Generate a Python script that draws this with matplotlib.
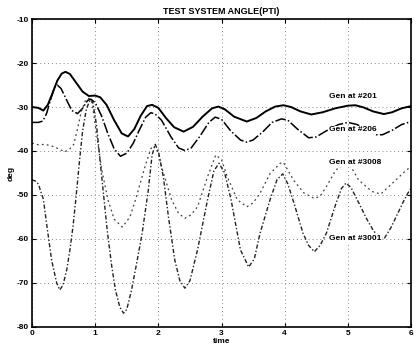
import matplotlib
matplotlib.use("Agg")
import matplotlib.pyplot as plt

plt.rcParams["font.family"] = ["Liberation Sans", "DejaVu Sans"]
plt.rcParams["axes.unicode_minus"] = False

# values (time in s, angle in deg)
t_201 = [0, 0.1, 0.18, 0.25, 0.32, 0.4, 0.47, 0.53, 0.6, 0.7, 0.8, 0.9, 1.0, 1.08,
         1.18, 1.3, 1.42, 1.52, 1.62, 1.72, 1.82, 1.9, 2.0, 2.12, 2.25, 2.4, 2.55,
         2.7, 2.85, 2.95, 3.05, 3.2, 3.4, 3.55, 3.7, 3.85, 3.98, 4.1, 4.25, 4.42,
         4.6, 4.8, 5.0, 5.12, 5.25, 5.4, 5.57, 5.7, 5.85, 6.0]
d_201 = [-30, -30.2, -30.8, -29.5, -27, -24, -22.4, -22, -22.5, -24.5, -26.5, -27.5,
         -27.4, -27.8, -29.5, -33, -36, -36.7, -35, -32, -29.8, -29.5, -30.2, -32.5,
         -34.6, -35.6, -34.5, -32.2, -30.3, -29.9, -30.5, -32.2, -33.3, -32.5, -31,
         -29.9, -29.6, -30, -31, -31.7, -31.2, -30.3, -29.7, -29.6, -30.1, -31, -31.6,
         -31.2, -30.3, -29.8]

t_206 = [0, 0.1, 0.17, 0.23, 0.3, 0.36, 0.4, 0.46, 0.55, 0.63, 0.72, 0.8, 0.88, 0.93,
         1.0, 1.1, 1.2, 1.3, 1.4, 1.5, 1.6, 1.7, 1.8, 1.88, 1.95, 2.05, 2.2, 2.32,
         2.42, 2.52, 2.65, 2.8, 2.9, 3.0, 3.15, 3.3, 3.4, 3.5, 3.65, 3.8, 3.95, 4.05,
         4.2, 4.38, 4.5, 4.65, 4.85, 5.0, 5.15, 5.3, 5.45, 5.55, 5.7, 5.85, 6.0]
d_206 = [-33.5, -33.5, -33.2, -31.5, -28, -25.4, -25, -25.8, -28.5, -30.8, -31.5,
         -30.3, -28.5, -28.2, -29, -32, -36, -39.5, -41.2, -40.5, -38.3, -35.2, -32.3,
         -31.3, -31.6, -33, -36.8, -39.3, -39.9, -39.3, -36.8, -33.5, -32.3, -32.8,
         -35.5, -37.5, -38, -37.5, -35.7, -33.5, -32.7, -33, -35, -37, -36.8, -35.5,
         -34, -33.5, -34, -35.3, -36.3, -36.3, -35.3, -34, -33.3]

t_3008 = [0, 0.1, 0.2, 0.3, 0.42, 0.52, 0.6, 0.66, 0.72, 0.78, 0.84, 0.9, 0.95, 1.02,
          1.1, 1.2, 1.3, 1.43, 1.55, 1.64, 1.72, 1.8, 1.88, 1.93, 2.0, 2.05, 2.21,
          2.32, 2.42, 2.52, 2.62, 2.78, 2.91, 3.0, 3.09, 3.25, 3.4, 3.5, 3.61, 3.77,
          3.93, 3.98, 4.14, 4.3, 4.47, 4.56, 4.66, 4.81, 4.95, 5.05, 5.17, 5.38, 5.52,
          5.7, 5.9, 6.0]
d_3008 = [-38.2, -38.6, -38.5, -38.8, -39.5, -40.2, -39.5, -38.5, -35, -31, -28.7,
          -28, -29, -36, -44, -51, -55.5, -57.3, -55, -51, -47, -43, -39.5, -38.8,
          -40.5, -43.6, -51.1, -54.2, -55.3, -54.5, -52.7, -45.8, -40.9, -42, -45.8,
          -51.1, -52.7, -51.8, -49.6, -45.1, -42.8, -42.6, -46.6, -49.5, -50.8, -50.3,
          -48.1, -44.3, -43, -43.6, -46.6, -49.2, -49.8, -47.4, -44.7, -43.5]

t_3001 = [0, 0.05, 0.1, 0.18, 0.23, 0.31, 0.39, 0.44, 0.49, 0.55, 0.6, 0.65, 0.7,
          0.75, 0.8, 0.86, 0.92, 0.96, 1.02, 1.09, 1.19, 1.26, 1.32, 1.39, 1.45, 1.5,
          1.57, 1.65, 1.74, 1.84, 1.9, 1.95, 2.0, 2.08, 2.16, 2.26, 2.34, 2.42, 2.5,
          2.62, 2.78, 2.88, 2.96, 3.05, 3.15, 3.3, 3.43, 3.52, 3.61, 3.77, 3.88, 3.97,
          4.05, 4.15, 4.29, 4.38, 4.47, 4.56, 4.66, 4.81, 4.9, 4.97, 5.05, 5.18, 5.3,
          5.4, 5.5, 5.58, 5.68, 5.78, 5.88, 5.95, 6.0]
d_3001 = [-46.6, -46.8, -47.5, -51, -56.5, -64.8, -70, -71.6, -70.5, -67, -62.5, -57,
          -50, -42.5, -35.5, -30.5, -28.3, -28.8, -34, -44, -58, -66, -71.6, -75.5,
          -76.9, -76, -72, -66, -59, -49, -41, -38.5, -40, -46, -55, -64.8, -69.5,
          -71.2, -69.5, -62.5, -51, -44.5, -42.8, -45, -51, -62.5, -66.4, -64.5, -58.7,
          -51, -46.5, -45.2, -47.5, -52, -58.7, -61.5, -62.9, -61.5, -58.7, -52, -48.5,
          -47.3, -48.3, -52, -55.5, -58, -59.8, -59.8, -57.5, -54.5, -51.5, -49.6, -48.5]

names = ["Gen at #201", "Gen at #206", "Gen at #3008", "Gen at #3001"]
label_pos = [(4.7, -27.7), (4.7, -35.2), (4.7, -42.7), (4.7, -59.8)]

fig = plt.figure(figsize=(4.16, 3.53), dpi=100)
ax = fig.add_axes([0.077, 0.074, 0.911, 0.872])

ax.plot(t_201, d_201, color="black", lw=1.4, ls="-")
ax.plot(t_206, d_206, color="black", lw=1.1, ls=(0, (7, 1.5, 1, 1.5)))
ax.plot(t_3008, d_3008, color="#444444", lw=0.9, ls=(0, (1.5, 2.5)))
ax.plot(t_3001, d_3001, color="#222222", lw=1.0, ls=(0, (3, 1.5, 1, 1.5)))

for name, (x, y) in zip(names, label_pos):
    ax.text(x, y, name, fontsize=6, fontweight="bold", va="center", ha="left",
            bbox=dict(facecolor="white", edgecolor="none", pad=0.3))

ax.set_xlim(0, 6)
ax.set_ylim(-80, -10)
ax.set_xticks(range(0, 7))
ax.set_yticks(range(-80, -9, 10))
ax.grid(True, color="#888888", ls=(0, (1, 3)), lw=0.7)
ax.tick_params(direction="in", length=3, labelsize=6, pad=2, top=True, right=True)
for lbl in ax.get_xticklabels() + ax.get_yticklabels():
    lbl.set_fontweight("bold")
for sp in ax.spines.values():
    sp.set_linewidth(1.2)

ax.set_title("TEST SYSTEM ANGLE(PTI)", fontsize=6.5, fontweight="bold", pad=4)
ax.set_xlabel("time", fontsize=6, fontweight="bold", labelpad=1)
ax.set_ylabel("deg", fontsize=6, fontweight="bold", labelpad=2)

fig.savefig("out.png", dpi=100)
